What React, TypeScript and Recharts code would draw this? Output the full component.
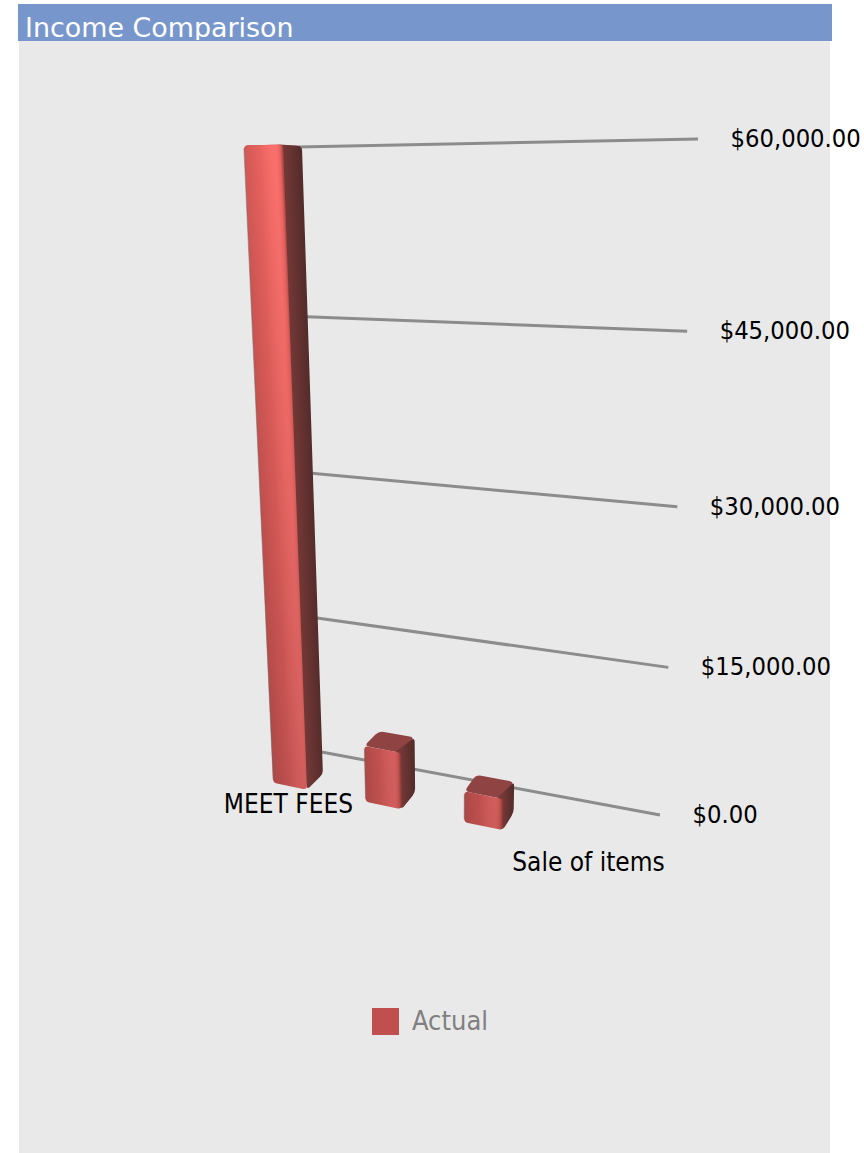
import { BarChart, Bar, XAxis, YAxis, CartesianGrid, Legend } from 'recharts'

const CATEGORIES = ['MEET FEES', '', 'Sale of items']
const ACTUAL = [60000, 5880, 3180]
const Y_TICKS = [0, 15000, 30000, 45000, 60000]

const FONT = '"DejaVu Sans Condensed", "DejaVu Sans", sans-serif'
const RED = '#c0504d'
const W = 864
const H = 1153
// plot rectangle that recharts lays out, the projection is relative to it
const PLOT = { x: 210, y: 140, w: 490, h: 675 }

type Pt = [number, number]

// unit square to quad (order: top left, top right, bottom right, bottom left)
function quad(p0: Pt, p1: Pt, p2: Pt, p3: Pt) {
  const sx = p0[0] - p1[0] + p2[0] - p3[0]
  const sy = p0[1] - p1[1] + p2[1] - p3[1]
  const dx1 = p1[0] - p2[0]
  const dx2 = p3[0] - p2[0]
  const dy1 = p1[1] - p2[1]
  const dy2 = p3[1] - p2[1]
  const den = dx1 * dy2 - dx2 * dy1
  const g = (sx * dy2 - dx2 * sy) / den
  const h = (dx1 * sy - sx * dy1) / den
  const a = p1[0] - p0[0] + g * p1[0]
  const b = p3[0] - p0[0] + h * p3[0]
  const d = p1[1] - p0[1] + g * p1[1]
  const e = p3[1] - p0[1] + h * p3[1]
  return (x: number, y: number): Pt => {
    const u = (x - PLOT.x) / PLOT.w
    const v = (y - PLOT.y) / PLOT.h
    const q = g * u + h * v + 1
    return [(a * u + b * v + p0[0]) / q, (d * u + e * v + p0[1]) / q]
  }
}

const wall = quad([272.5, 147.5], [698, 139], [660, 815], [300, 748])
const barBack = quad([233, 148], [563, 140], [546, 819], [263, 762])
const barFront = quad([212, 146], [552, 139], [536, 837], [245.5, 777])

// corners pulled in by r and joined with a curve
function roundPath(pts: Pt[], r: number) {
  let out = ''
  pts.forEach((p, i) => {
    const prev = pts[(i + pts.length - 1) % pts.length]
    const next = pts[(i + 1) % pts.length]
    const toward = (o: Pt): Pt => {
      const len = Math.hypot(o[0] - p[0], o[1] - p[1]) || 1
      const k = Math.min(r, len / 2) / len
      return [p[0] + (o[0] - p[0]) * k, p[1] + (o[1] - p[1]) * k]
    }
    const a = toward(prev)
    const b = toward(next)
    out += `${i === 0 ? 'M' : 'L'}${a[0]},${a[1]}Q${p[0]},${p[1]} ${b[0]},${b[1]}`
  })
  return out + 'Z'
}

// gradient across a leaning face: colour bands stay parallel to its edges
function acrossFace(tl: Pt, tr: Pt, bl: Pt) {
  const dx = bl[0] - tl[0]
  const dy = bl[1] - tl[1]
  const len = Math.hypot(dx, dy) || 1
  const nx = dy / len
  const ny = -dx / len
  const reach = (tr[0] - tl[0]) * nx + (tr[1] - tl[1]) * ny
  return { x1: tl[0], y1: tl[1], x2: tl[0] + nx * reach, y2: tl[1] + ny * reach }
}

function Bar3D(props: any) {
  const { x, y, width, height, index } = props
  const ftl = barFront(x, y)
  const ftr = barFront(x + width, y)
  const fbr = barFront(x + width, y + height)
  const fbl = barFront(x, y + height)
  const btl = barBack(x, y)
  const btr = barBack(x + width, y)
  const bbr = barBack(x + width, y + height)
  // side and top start a little inside the front face so rounded corners leave no gap
  const innerTop = barFront(x + width * 0.85, y)
  const innerBottom = barFront(x + width * 0.85, y + height * 0.9)
  const front = roundPath([ftl, ftr, fbr, fbl], 4)
  return (
    <g>
      <defs>
        <linearGradient id={`fr${index}`} gradientUnits="userSpaceOnUse" {...acrossFace(ftl, ftr, fbl)}>
          <stop offset="0" stopColor="#000" stopOpacity={0.17} />
          <stop offset="0.4" stopColor="#000" stopOpacity={0.08} />
          <stop offset="0.8" stopColor="#fff" stopOpacity={0.04} />
          <stop offset="0.92" stopColor="#000" stopOpacity={0.08} />
          <stop offset="1" stopColor="#000" stopOpacity={0.38} />
        </linearGradient>
        <linearGradient id={`sd${index}`} gradientUnits="userSpaceOnUse" {...acrossFace(ftr, btr, fbr)}>
          <stop offset="0" stopColor="#743836" />
          <stop offset="1" stopColor="#512b2a" />
        </linearGradient>
      </defs>
      <path d={roundPath([ftl, btl, btr, ftr], 5)} fill="#8f4342" />
      <path d={roundPath([innerTop, btr, bbr, fbr, innerBottom], 4)} fill={`url(#sd${index})`} />
      <path d={front} fill="url(#frontV)" />
      <path d={front} fill={`url(#fr${index})`} />
      <line x1={ftl[0]} y1={ftl[1] + 3} x2={fbl[0]} y2={fbl[1] - 3} stroke="#6e6e6e" strokeOpacity={0.5} strokeWidth={1} />
    </g>
  )
}

function GridLine(props: any) {
  const a = wall(props.x1, props.y1)
  const b = wall(props.x2, props.y2)
  return <line key={props.key} x1={a[0]} y1={a[1]} x2={b[0]} y2={b[1]} stroke="#8c8c8c" strokeWidth={3} />
}

function ValueTick(props: any) {
  const p = wall(PLOT.x + PLOT.w, props.y)
  const label = '$' + props.payload.value.toLocaleString('en-US', { minimumFractionDigits: 2 })
  return (
    <text x={p[0] + 32.5} y={p[1] + 8} fontFamily={FONT} fontSize={25.3} fill="#000">
      {label}
    </text>
  )
}

function CategoryTick(props: any) {
  // labels run along their own line below the floor, wider than the bars
  const t = ((props.x - PLOT.x) / PLOT.w - 1 / 6) / (2 / 3)
  return (
    <text x={288.5 + t * 300} y={813 + t * 58} fontFamily={FONT} fontSize={26} fill="#000" textAnchor="middle">
      {props.payload.value}
    </text>
  )
}

export default function App() {
  return (
    <div style={{ position: 'absolute', left: 0, top: 0, width: W, height: H, background: '#fff', overflow: 'hidden' }}>
      <div style={{ position: 'absolute', left: 19, top: 41, width: 811, height: 1112, background: '#e9e9e9' }} />
      <div style={{ position: 'absolute', left: 18, top: 4, width: 814, height: 37, background: '#7796cc' }}>
        <div style={{ height: 35.5, overflow: 'hidden', paddingLeft: 7, color: '#fff', fontFamily: '"DejaVu Sans", sans-serif', fontSize: 26.9, lineHeight: '48px' }}>
          Income Comparison
        </div>
      </div>
      <div style={{ position: 'absolute', left: 0, top: 0 }}>
        <BarChart
          width={W}
          height={H}
          data={CATEGORIES.map((name, i) => ({ name, actual: ACTUAL[i] }))}
          margin={{ top: 140, right: 104, bottom: 278, left: 210 }}
          barCategoryGap="31.25%"
        >
          <defs>
            <linearGradient id="frontV" gradientUnits="userSpaceOnUse" x1="0" y1="145" x2="0" y2="830">
              <stop offset="0" stopColor="#fb6a66" />
              <stop offset="0.5" stopColor="#e6605d" />
              <stop offset="1" stopColor="#cc5654" />
            </linearGradient>
          </defs>
          <CartesianGrid vertical={false} horizontal={GridLine} />
          <XAxis dataKey="name" height={60} interval={0} axisLine={false} tickLine={false} tick={CategoryTick} />
          <YAxis orientation="right" width={60} domain={[0, 60000]} ticks={Y_TICKS} interval={0} axisLine={false} tickLine={false} tick={ValueTick} />
          <Bar dataKey="actual" name="Actual" fill={RED} shape={Bar3D} isAnimationActive={false} />
          <Legend
            layout="horizontal"
            align="center"
            verticalAlign="middle"
            iconType="square"
            iconSize={27}
            wrapperStyle={{ left: 365, top: 1000, width: 140, height: 30 }}
            formatter={(v) => <span style={{ color: '#808080', fontFamily: FONT, fontSize: 27, marginLeft: 9, position: 'relative', top: 5 }}>{v}</span>}
          />
        </BarChart>
      </div>
    </div>
  )
}
